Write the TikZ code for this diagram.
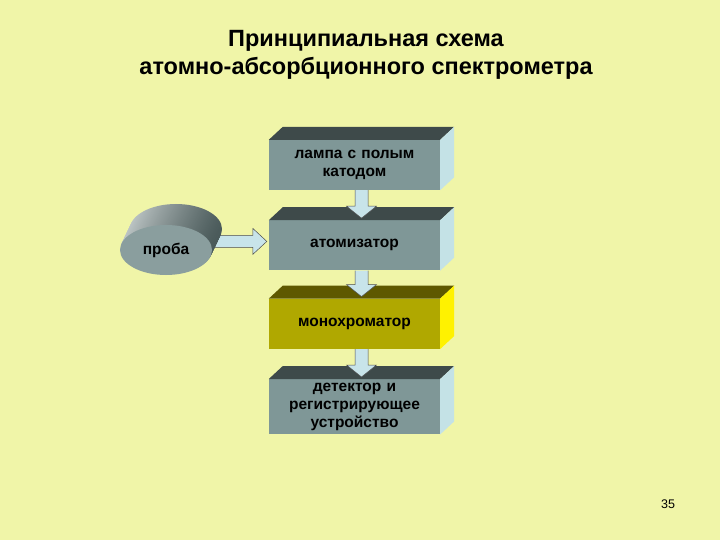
\documentclass[tikz,border=0pt]{standalone}
\usepackage{fontspec}
\setmainfont{Liberation Sans}
\usepackage{xcolor}
\usepackage{tikz}
\usetikzlibrary{positioning,calc,shapes.geometric}
\definecolor{slidebg}{HTML}{F0F5A8}
\definecolor{boxfront}{HTML}{7F9797}
\definecolor{boxtop}{HTML}{3E4A4A}
\definecolor{boxside}{HTML}{C4E2E6}
\definecolor{monofront}{HTML}{B0A800}
\definecolor{monotop}{HTML}{5E5800}
\definecolor{monoside}{HTML}{FFF200}
\definecolor{arrowfill}{HTML}{C8E4EA}
\definecolor{probefront}{HTML}{8A9E9E}
\definecolor{probelight}{HTML}{C0C8C8}
\definecolor{probedark}{HTML}{4A5A5A}

\pgfdeclarelayer{back}
\pgfsetlayers{back,main}

\tikzset{
    unitbox/.style={fill=boxfront, minimum width=171pt, minimum height=50pt,
        inner sep=0pt, text width=168pt, align=center,
        font=\fontsize{15.5}{18}\selectfont\bfseries},
    blockarr/.style={fill=arrowfill, draw=black!70, line width=0.5pt},
}

% top and right faces of a box node
\newcommand{\extrude}[3]{%
    \fill[#2] (#1.north west) -- ++(14,-13) -- ($(#1.north east)+(14,-13)$) -- (#1.north east) -- cycle;
    \fill[#3] (#1.north east) -- ++(14,-13) -- ($(#1.south east)+(14,-13)$) -- (#1.south east) -- cycle;
}
% hollow arrow from one box down to the next
\newcommand{\flowdown}[2]{%
    \draw[blockarr] ($(#1.south)+(0.5,0)$) -- ($(#2.north)+(0.5,-14)$) -- ($(#2.north)+(-8,-14)$)
        -- ($(#2.north)+(7,-2)$) -- ($(#2.north)+(22,-14)$) -- ($(#2.north)+(13.5,-14)$)
        -- ($(#1.south)+(13.5,0)$);
}

\begin{document}
\begin{tikzpicture}[x=1pt, y=-1pt]
    \useasboundingbox (0,0) rectangle (720,540);
    \begin{pgfonlayer}{back}
        \fill[slidebg] (0,0) rectangle (720,540);
    \end{pgfonlayer}

    \node[font=\fontsize{23.5}{28}\selectfont\bfseries, align=center] (title) at (366,55)
        {Принципиальная схема\\атомно-абсорбционного спектрометра};

    \node[unitbox] (lamp) at (354.5,165) {лампа с полым\\катодом};
    \node[unitbox, below=30pt of lamp] (atom) {атомизатор};
    \node[unitbox, fill=monofront, below=28pt of atom] (mono) {монохроматор};
    \node[unitbox, minimum height=55pt, below=30pt of mono] (det)
        {детектор и\\регистрирующее\\устройство};

    \extrude{lamp}{boxtop}{boxside}
    \extrude{atom}{boxtop}{boxside}
    \extrude{mono}{monotop}{monoside}
    \extrude{det}{boxtop}{boxside}

    \flowdown{lamp}{atom}
    \flowdown{atom}{mono}
    \flowdown{mono}{det}

    % sample disc
    \coordinate (samplec) at (166,250);
    \foreach \i in {21,20,...,1}
        \shade[left color=probelight, right color=probedark]
            ($(samplec)+(10*\i/21,-\i)$) ellipse [x radius=46, y radius=25];
    \node[ellipse, fill=probefront, minimum width=92pt, minimum height=50pt, inner sep=0pt,
        font=\fontsize{15.5}{18}\selectfont\bfseries] (sample) at (samplec) {проба};

    \begin{pgfonlayer}{back}
        \coordinate (jn) at (sample.east |- atom.west);
        \draw[blockarr] ($(jn)+(-4,-10)$) -- ($(atom.west)+(-16,-10)$) -- ($(atom.west)+(-16,-17)$)
            -- ($(atom.west)+(-2,-4)$) -- ($(atom.west)+(-16,9)$) -- ($(atom.west)+(-16,2)$)
            -- ($(jn)+(-4,2)$);
    \end{pgfonlayer}

    \node[font=\fontsize{12.5}{14}\selectfont] (page) at (668,504) {35};
\end{tikzpicture}
\end{document}
